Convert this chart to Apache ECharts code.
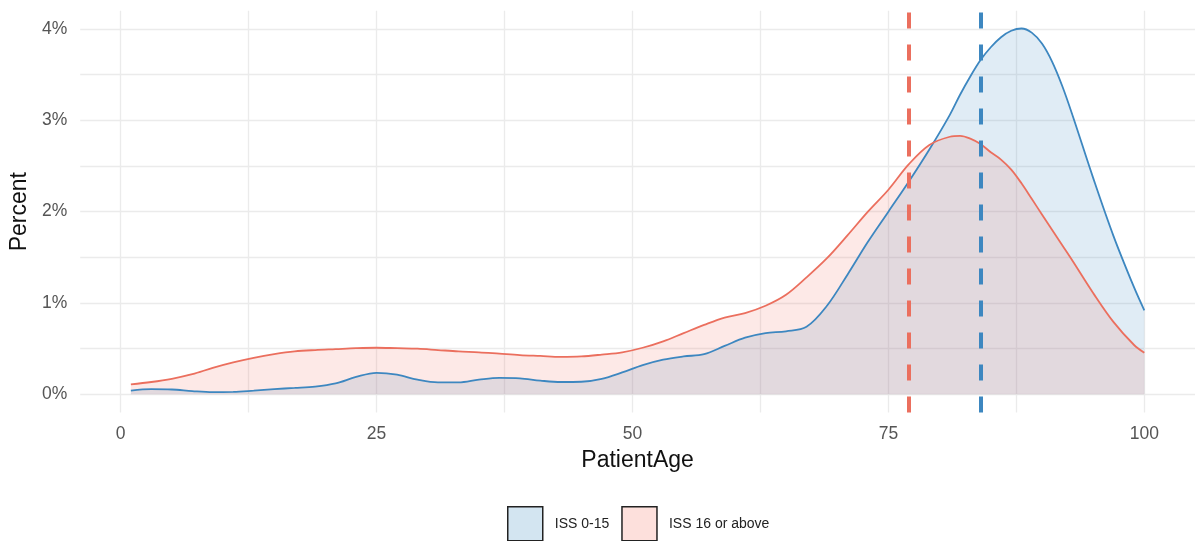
<!DOCTYPE html>
<html>
<head>
<meta charset="utf-8">
<script src="https://cdn.jsdelivr.net/npm/echarts@6/dist/echarts.min.js"></script>
<style>
html, body { margin: 0; padding: 0; background: #fff; }
#main { width: 1198px; height: 541px; }
</style>
</head>
<body>
<div id="main"></div>
<script>
// ages where the density curves were read
var ages = [1, 3, 5, 7, 9, 11, 13, 15, 17, 19, 21, 23, 25, 27, 29, 31, 33, 35, 37, 39,
	41, 43, 45, 47, 49, 51, 53, 55, 57, 59, 61, 63, 65, 67, 69, 71, 73, 75, 77, 79,
	81, 82, 83, 84, 85, 86, 87, 88, 89, 90, 91, 92, 93, 95, 97, 99, 100];

// percent, ISS 0-15
var issLow = [0.04, 0.056, 0.053, 0.036, 0.025, 0.026, 0.04, 0.057, 0.07, 0.085,
	0.12, 0.19, 0.235, 0.215, 0.16, 0.13, 0.13, 0.16, 0.18, 0.175,
	0.15, 0.135, 0.138, 0.17, 0.24, 0.32, 0.38, 0.415, 0.44, 0.53,
	0.62, 0.67, 0.69, 0.74, 0.97, 1.31, 1.67, 2.0, 2.33, 2.68,
	3.06, 3.28, 3.48, 3.66, 3.8, 3.91, 3.98, 4.005, 3.96, 3.84, 3.64, 3.37, 3.05, 2.37, 1.73, 1.17, 0.92];

// percent, ISS 16 or above
var issHigh = [0.11, 0.135, 0.17, 0.22, 0.29, 0.35, 0.40, 0.44, 0.47, 0.485,
	0.495, 0.505, 0.51, 0.505, 0.50, 0.485, 0.47, 0.46, 0.445, 0.43,
	0.42, 0.41, 0.415, 0.435, 0.46, 0.51, 0.58, 0.67, 0.76, 0.84,
	0.89, 0.97, 1.09, 1.28, 1.49, 1.74, 2.0, 2.24, 2.52, 2.73,
	2.82, 2.83, 2.8, 2.74, 2.65, 2.57, 2.46, 2.31, 2.14, 1.97, 1.80, 1.63, 1.46, 1.11, 0.79, 0.54, 0.455];

var meanLow = 84;
var meanHigh = 77;

var xTicks = [0, 25, 50, 75, 100];
var xGrid = [0, 12.5, 25, 37.5, 50, 62.5, 75, 87.5, 100];
var yTicks = [0, 1, 2, 3, 4];
var yGrid = [0, 0.5, 1, 1.5, 2, 2.5, 3, 3.5, 4];

var BLUE = "#3d87c0";
var RED = "#eb6f5e";
var FONT = "Liberation Sans";

var toPairs = function(xs, ys){
	var out = [];
	for (var i = 0; i < xs.length; i++) {
		out.push([xs[i], ys[i]]);
	}
	return out;
}

var chart = echarts.init(document.getElementById("main"));

var option = {
	animation: false,
	backgroundColor: "#fff",
	textStyle: { fontFamily: FONT },
	grid: { left: 78, right: 3, top: 10.7, bottom: 128.4, containLabel: false },
	legend: {
		left: 507,
		top: 506,
		padding: 0,
		itemWidth: 35,
		itemHeight: 34,
		itemGap: 12,
		textStyle: { fontSize: 14, color: "#222", fontFamily: FONT, padding: [0, 0, 0, 7] },
		data: [
			{ name: "ISS 0-15", icon: "rect", itemStyle: { color: "#d3e5f1", borderColor: "#222", borderWidth: 1.5 } },
			{ name: "ISS 16 or above", icon: "rect", itemStyle: { color: "#fde0dc", borderColor: "#222", borderWidth: 1.5 } }
		]
	},
	xAxis: {
		type: "value",
		min: -3.95,
		max: 104.95,
		name: "PatientAge",
		nameLocation: "middle",
		nameGap: 37,
		nameTextStyle: { fontSize: 23, color: "#111", fontFamily: FONT },
		axisLine: { show: false },
		axisTick: { show: false, customValues: xGrid },
		axisLabel: { customValues: xTicks, fontSize: 17.5, color: "#555", margin: 13, fontFamily: FONT },
		splitLine: { show: true, lineStyle: { color: "#ebebeb", width: 1.3 } }
	},
	yAxis: {
		type: "value",
		min: -0.2,
		max: 4.2,
		name: "Percent",
		nameLocation: "middle",
		nameGap: 44,
		nameTextStyle: { fontSize: 23, color: "#111", fontFamily: FONT },
		axisLine: { show: false },
		axisTick: { show: false, customValues: yGrid },
		axisLabel: { customValues: yTicks, fontSize: 17.5, color: "#555", margin: 13, fontFamily: FONT,
			formatter: function(v){ return v + "%"; } },
		splitLine: { show: true, lineStyle: { color: "#ebebeb", width: 1.3 } }
	},
	series: [
		{
			name: "ISS 0-15",
			type: "line",
			data: toPairs(ages, issLow),
			smooth: 0.35,
			showSymbol: false,
			lineStyle: { color: BLUE, width: 1.8 },
			itemStyle: { color: BLUE },
			areaStyle: { color: "rgba(70,140,195,0.24)" },
			markLine: {
				silent: true,
				symbol: "none",
				label: { show: false },
				lineStyle: { color: BLUE, type: [16, 16], width: 4 },
				data: [{ xAxis: meanLow }]
			}
		},
		{
			name: "ISS 16 or above",
			type: "line",
			data: toPairs(ages, issHigh),
			smooth: 0.35,
			showSymbol: false,
			lineStyle: { color: RED, width: 1.8 },
			itemStyle: { color: RED },
			areaStyle: { color: "rgba(240,110,95,0.22)" },
			markLine: {
				silent: true,
				symbol: "none",
				label: { show: false },
				lineStyle: { color: RED, type: [16, 16], width: 4 },
				data: [{ xAxis: meanHigh }]
			}
		}
	]
};

chart.setOption(option);
</script>
</body>
</html>
